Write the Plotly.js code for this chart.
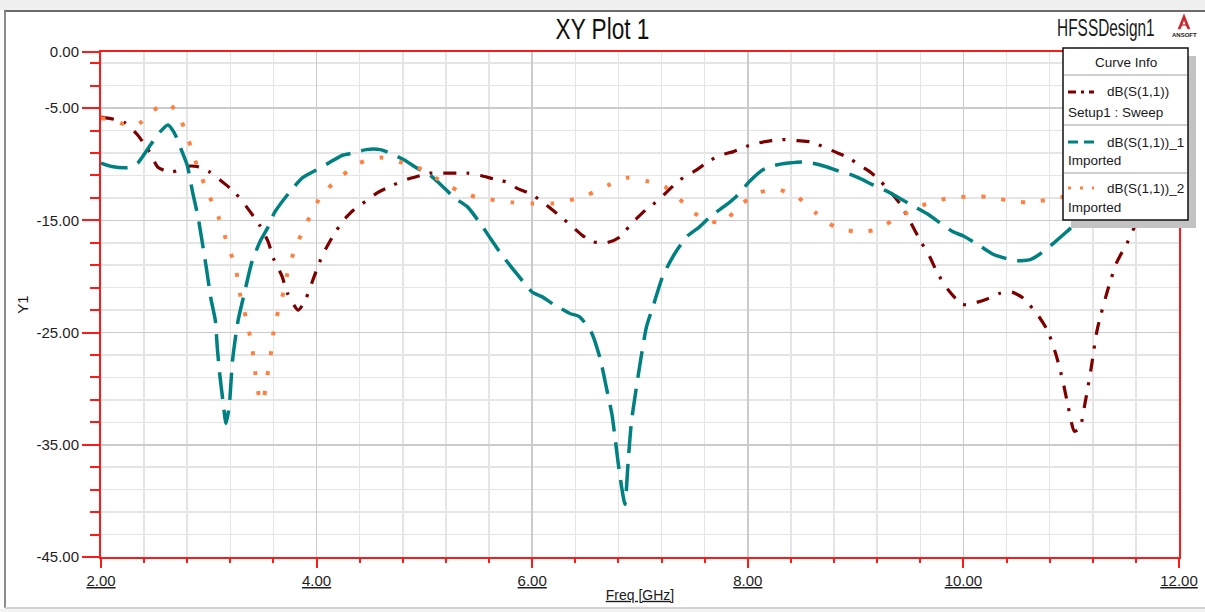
<!DOCTYPE html>
<html>
<head>
<meta charset="utf-8">
<script src="https://cdn.plot.ly/plotly-3.0.1.min.js"></script>
<style>
  html, body { margin: 0; padding: 0; background: #ffffff; }
  #chart { width: 1205px; height: 612px; }
</style>
</head>
<body>
<div id="chart"></div>
<script>
// Return loss curves, frequency in GHz, magnitude in dB
const freqSweep = [2.00,2.12,2.22,2.34,2.45,2.53,2.66,2.78,2.89,3.01,3.13,3.24,3.35,3.47,3.55,3.60,3.68,3.73,3.83,3.90,
  3.97,4.05,4.14,4.24,4.34,4.47,4.57,4.70,4.82,4.93,5.05,5.17,5.27,5.40,5.52,5.64,5.77,5.87,5.98,6.10,
  6.23,6.33,6.46,6.56,6.69,6.81,6.93,7.05,7.17,7.30,7.40,7.51,7.63,7.74,7.86,7.99,8.10,8.22,8.35,8.46,
  8.58,8.69,8.81,8.93,9.04,9.15,9.27,9.41,9.50,9.60,9.69,9.76,9.86,9.99,10.09,10.22,10.34,10.45,10.55,10.68,
  10.78,10.86,10.92,10.97,11.03,11.08,11.13,11.18,11.24,11.33,11.42,11.52,11.62,11.75,11.90,12.00];
const s11Sweep = [-5.8,-6.0,-6.3,-7.4,-8.9,-10.3,-10.7,-10.2,-10.2,-10.7,-11.6,-12.5,-13.8,-15.4,-16.9,-18.4,-20.0,-21.5,-23.0,-22.0,
  -20.2,-18.2,-16.6,-15.1,-14.1,-13.2,-12.5,-11.9,-11.4,-11.1,-10.8,-10.8,-10.8,-10.8,-11.0,-11.3,-11.6,-12.2,-12.6,-13.4,
  -14.4,-15.2,-16.3,-16.9,-17.0,-16.5,-15.2,-14.1,-13.2,-12.0,-11.2,-10.6,-9.8,-9.2,-8.9,-8.4,-8.1,-7.9,-7.8,-7.9,
  -8.0,-8.4,-8.9,-9.4,-10.1,-10.8,-11.9,-13.5,-15.0,-16.8,-18.3,-19.7,-21.2,-22.5,-22.4,-22.0,-21.5,-21.4,-21.9,-23.3,
  -24.8,-27.0,-29.2,-31.5,-33.8,-33.5,-31.2,-28.5,-24.8,-21.5,-18.8,-17.0,-15.0,-13.8,-12.8,-12.3];

const freqImp1 = [2.00,2.10,2.25,2.34,2.45,2.55,2.62,2.68,2.74,2.80,2.85,2.90,2.94,2.98,3.02,3.06,3.08,3.10,3.13,3.16,
  3.19,3.22,3.27,3.33,3.40,3.48,3.55,3.61,3.74,3.87,3.98,4.11,4.24,4.34,4.46,4.59,4.68,4.81,4.94,5.03,
  5.15,5.28,5.40,5.52,5.64,5.72,5.86,6.00,6.09,6.20,6.35,6.44,6.55,6.63,6.69,6.74,6.77,6.80,6.83,6.86,
  6.89,6.92,6.96,7.00,7.06,7.13,7.21,7.32,7.44,7.55,7.66,7.79,7.90,8.02,8.14,8.25,8.38,8.50,8.60,8.72,
  8.84,8.95,9.05,9.15,9.29,9.42,9.55,9.66,9.78,9.90,10.00,10.14,10.27,10.36,10.50,10.62,10.71,10.84,10.96,11.05,
  11.10,11.25,11.40,11.60,11.80,12.00];
const s11Imp1 = [-9.9,-10.2,-10.3,-9.9,-8.4,-7.1,-6.5,-7.2,-8.6,-10.1,-12.5,-14.7,-17.0,-19.4,-22.0,-23.9,-26.5,-28.6,-31.0,-33.1,
  -31.5,-27.5,-24.0,-21.5,-18.7,-16.8,-15.6,-14.3,-12.6,-11.2,-10.6,-9.9,-9.2,-9.0,-8.7,-8.7,-9.0,-9.6,-10.4,-10.8,
  -11.8,-13.0,-13.8,-15.3,-17.0,-18.1,-19.8,-21.4,-21.8,-22.5,-23.3,-23.6,-25.0,-27.3,-30.0,-32.3,-34.5,-36.8,-38.8,-40.3,
  -36.5,-33.0,-30.3,-27.8,-24.5,-22.4,-20.0,-18.0,-16.4,-15.6,-14.6,-13.7,-12.8,-11.5,-10.5,-10.1,-9.9,-9.8,-9.9,-10.2,
  -10.6,-10.9,-11.3,-11.8,-12.4,-13.1,-13.8,-14.4,-15.2,-16.0,-16.4,-17.2,-18.0,-18.3,-18.6,-18.5,-18.0,-17.0,-16.0,-15.2,
  -14.8,-13.8,-13.0,-12.4,-12.0,-11.8];

const freqImp2 = [2.00,2.10,2.20,2.30,2.38,2.46,2.55,2.62,2.71,2.81,2.89,2.99,3.09,3.17,3.25,3.29,3.35,3.40,3.43,3.47,
  3.50,3.54,3.58,3.61,3.68,3.73,3.80,3.91,4.05,4.24,4.40,4.59,4.77,4.94,5.12,5.30,5.47,5.65,5.82,6.00,
  6.18,6.35,6.52,6.70,6.88,7.06,7.23,7.40,7.57,7.76,7.95,8.11,8.30,8.47,8.64,8.81,9.00,9.16,9.35,9.52,
  9.69,9.88,10.04,10.23,10.40,10.59,10.76,10.94,11.10,11.30,11.50,11.75,12.00];
const s11Imp2 = [-5.9,-6.0,-6.4,-6.6,-6.2,-5.4,-4.8,-4.6,-5.4,-7.8,-10.1,-12.5,-14.7,-17.0,-19.3,-21.6,-23.9,-26.2,-28.5,-30.8,
  -31.2,-29.0,-26.6,-24.3,-21.9,-19.7,-17.5,-15.2,-12.7,-11.0,-9.9,-9.4,-9.8,-10.3,-11.3,-12.3,-12.9,-13.2,-13.4,-13.5,
  -13.5,-13.2,-12.7,-11.9,-11.2,-11.5,-12.0,-13.4,-14.8,-15.2,-13.5,-12.5,-12.3,-13.0,-14.4,-15.6,-16.0,-15.9,-15.0,-14.1,
  -13.4,-13.0,-12.9,-12.9,-13.2,-13.4,-13.2,-12.9,-12.9,-13.0,-13.0,-13.1,-13.0];

const curveNames = ['dB(S(1,1))', 'dB(S(1,1))_1', 'dB(S(1,1))_2'];
const curveSources = ['Setup1 : Sweep', 'Imported', 'Imported'];
const curveColors = ['#7d0000', '#008080', '#ff8040'];

const xTickVals = [2, 4, 6, 8, 10, 12];
const xTickText = ['2.00', '4.00', '6.00', '8.00', '10.00', '12.00'];
const yTickVals = [-45, -35, -25, -15, -5, 0];
const yTickText = ['-45.00', '-35.00', '-25.00', '-15.00', '-5.00', '0.00'];

// Page geometry (pixels) of the plotting rectangle
const W = 1205, H = 612;
const L = 101, R = 1179, T = 52, B = 557;
const PX = x => (x - L) / (R - L);
const PY = y => (B - y) / (B - T);
const FONT = 'Arial, "Liberation Sans", sans-serif';
const AXIS_RED = '#ff1a1a';

const traces = [
  { x: freqSweep, y: s11Sweep, name: curveNames[0], mode: 'lines',
    line: { color: curveColors[0], width: 3.2, dash: '13px,10px,3px,11px', shape: 'spline', smoothing: 0.6 } },
  { x: freqImp1, y: s11Imp1, name: curveNames[1], mode: 'lines',
    line: { color: curveColors[1], width: 3.5, dash: '27px,11px', shape: 'spline', smoothing: 0.6 } },
  { x: freqImp2, y: s11Imp2, name: curveNames[2], mode: 'lines',
    line: { color: curveColors[2], width: 4, dash: '4px,16px', shape: 'spline', smoothing: 0.6 } }
];

function hline(x0, x1, y, color, width, dash) {
  return { type: 'line', xref: 'paper', yref: 'paper', x0: PX(x0), x1: PX(x1), y0: PY(y), y1: PY(y),
           line: { color: color, width: width, dash: dash || 'solid' }, layer: 'above' };
}
function vline(x, y0, y1, color, width) {
  return { type: 'line', xref: 'paper', yref: 'paper', x0: PX(x), x1: PX(x), y0: PY(y0), y1: PY(y1),
           line: { color: color, width: width }, layer: 'above' };
}
function box(x0, y0, x1, y1, fill, lineColor, lineWidth) {
  return { type: 'rect', xref: 'paper', yref: 'paper', x0: PX(x0), x1: PX(x1), y0: PY(y1), y1: PY(y0),
           fillcolor: fill, line: { color: lineColor || fill, width: lineWidth || 0 }, layer: 'above' };
}
const P = (x, y) => PX(x) + ' ' + PY(y);

// Window frame
const frameShapes = [
  box(0, 0, W, 10, '#f0f0f0'),
  box(0, 609, W, H, '#f3f3f3'),
  hline(4, W, 11, '#6c6c6c', 2),
  vline(5, 11, 608, '#8c8c8c', 2),
  hline(5, W, 608, '#d2d2d2', 2)
];

// Curve info box
const LX0 = 1063, LX1 = 1188, LY0 = 48, LY1 = 220;
const rowY = [92, 142, 188];
const subY = [112, 160, 207];
const sampleDash = ['8px,5px,3px,5px', '10px,6px', '3px,9px'];
const legendShapes = [
  box(LX0 + 8, LY0 + 8, LX1 + 8, LY1 + 8, '#c3c3c3'),
  box(LX0, LY0, LX1, LY1, '#ffffff', '#111111', 1.5),
  hline(LX0 + 1, LX1 - 1, 75, '#a0a0a0', 1),
  hline(LX0 + 1, LX1 - 1, 125, '#a0a0a0', 1),
  hline(LX0 + 1, LX1 - 1, 173, '#a0a0a0', 1)
];
curveColors.forEach((c, i) => legendShapes.push(hline(1068, 1094, rowY[i], c, 3, sampleDash[i])));

// Vendor mark
const logoShapes = [
  { type: 'path', xref: 'paper', yref: 'paper', layer: 'above',
    path: 'M ' + P(1178, 29) + ' L ' + P(1184, 14) + ' L ' + P(1190, 29) + ' L ' + P(1187.6, 29) +
          ' L ' + P(1184, 20) + ' L ' + P(1180.4, 29) + ' Z',
    fillcolor: '#c4262e', line: { color: '#c4262e', width: 0.5 } },
  hline(1181, 1187, 25, '#c4262e', 1.2)
];

const ann = (text, x, y, size, xanchor, extra) => Object.assign({
  text: text, xref: 'paper', yref: 'paper', x: PX(x), y: PY(y), showarrow: false,
  xanchor: xanchor || 'center', yanchor: 'middle', font: { family: FONT, size: size, color: '#1a1a1a' },
  borderpad: 0
}, extra || {});

const annotations = [
  ann('HFSSDesign1', 1106, 28, 23, 'center'),
  ann('ANSOFT', 1184, 35, 6, 'center', { font: { family: FONT, size: 6, color: '#222', weight: 'bold' } }),
  ann('Curve Info', 1126, 62, 13.5, 'center')
];
curveNames.forEach((n, i) => {
  annotations.push(ann(n, 1106, rowY[i], 13.5, 'left'));
  annotations.push(ann(curveSources[i], 1067, subY[i], 13.5, 'left'));
});

const layout = {
  width: W, height: H,
  margin: { l: L, r: W - R, t: T, b: H - B, pad: 0 },
  paper_bgcolor: '#ffffff', plot_bgcolor: '#ffffff',
  showlegend: false,
  font: { family: FONT, color: '#1a1a1a' },
  title: { text: 'XY Plot 1', font: { family: FONT, size: 29, color: '#111' },
           xref: 'container', yref: 'container', x: 0.5, xanchor: 'center', y: 1 - 29 / H, yanchor: 'middle' },
  xaxis: {
    range: [2, 12], automargin: false, zeroline: false,
    tickmode: 'array', tickvals: xTickVals, ticktext: xTickText.map(t => '<u>' + t + '</u>'),
    ticks: 'outside', ticklen: 9, tickwidth: 2, tickcolor: AXIS_RED,
    tickfont: { family: FONT, size: 15, color: '#1e1e1e' },
    showline: true, linecolor: AXIS_RED, linewidth: 2, mirror: true,
    showgrid: true, gridcolor: '#cbcbcb', gridwidth: 1.5,
    minor: { tickmode: 'linear', tick0: 2, dtick: 0.4, ticks: 'outside', ticklen: 4, tickwidth: 2,
             tickcolor: AXIS_RED, showgrid: true, gridcolor: '#e5e5e5', gridwidth: 1.5 },
    title: { text: '<u>Freq [GHz]</u>', font: { family: FONT, size: 14, color: '#1a1a1a' }, standoff: 2 }
  },
  yaxis: {
    range: [-45, 0], automargin: false, zeroline: false,
    tickmode: 'array', tickvals: yTickVals, ticktext: yTickText,
    ticks: 'outside', ticklen: 17, tickwidth: 2, tickcolor: AXIS_RED,
    tickfont: { family: FONT, size: 15, color: '#1e1e1e' },
    showline: true, linecolor: AXIS_RED, linewidth: 2, mirror: true,
    showgrid: true, gridcolor: '#cbcbcb', gridwidth: 1.5,
    minor: { tickmode: 'linear', tick0: -45, dtick: 2, ticks: 'outside', ticklen: 9, tickwidth: 2,
             tickcolor: AXIS_RED, showgrid: true, gridcolor: '#e5e5e5', gridwidth: 1.5 },
    title: { text: 'Y1', font: { family: FONT, size: 15, color: '#1a1a1a' }, standoff: 4 }
  },
  shapes: frameShapes.concat(legendShapes, logoShapes),
  annotations: annotations
};

// Narrow the heading glyphs horizontally, keeping each text centred where it was placed
function squeeze(el, k) {
  if (!el) return;
  const b = el.getBBox();
  const cx = b.x + b.width / 2;
  const prev = el.getAttribute('transform') || '';
  el.setAttribute('transform', prev + ' translate(' + cx + ' 0) scale(' + k + ' 1) translate(' + (-cx) + ' 0)');
}

Plotly.newPlot('chart', traces, layout, { staticPlot: true, displayModeBar: false }).then(gd => {
  squeeze(gd.querySelector('.gtitle'), 0.78);
  gd.querySelectorAll('.annotation-text').forEach(t => {
    if (t.textContent === 'HFSSDesign1') squeeze(t, 0.67);
  });
});
</script>
</body>
</html>
